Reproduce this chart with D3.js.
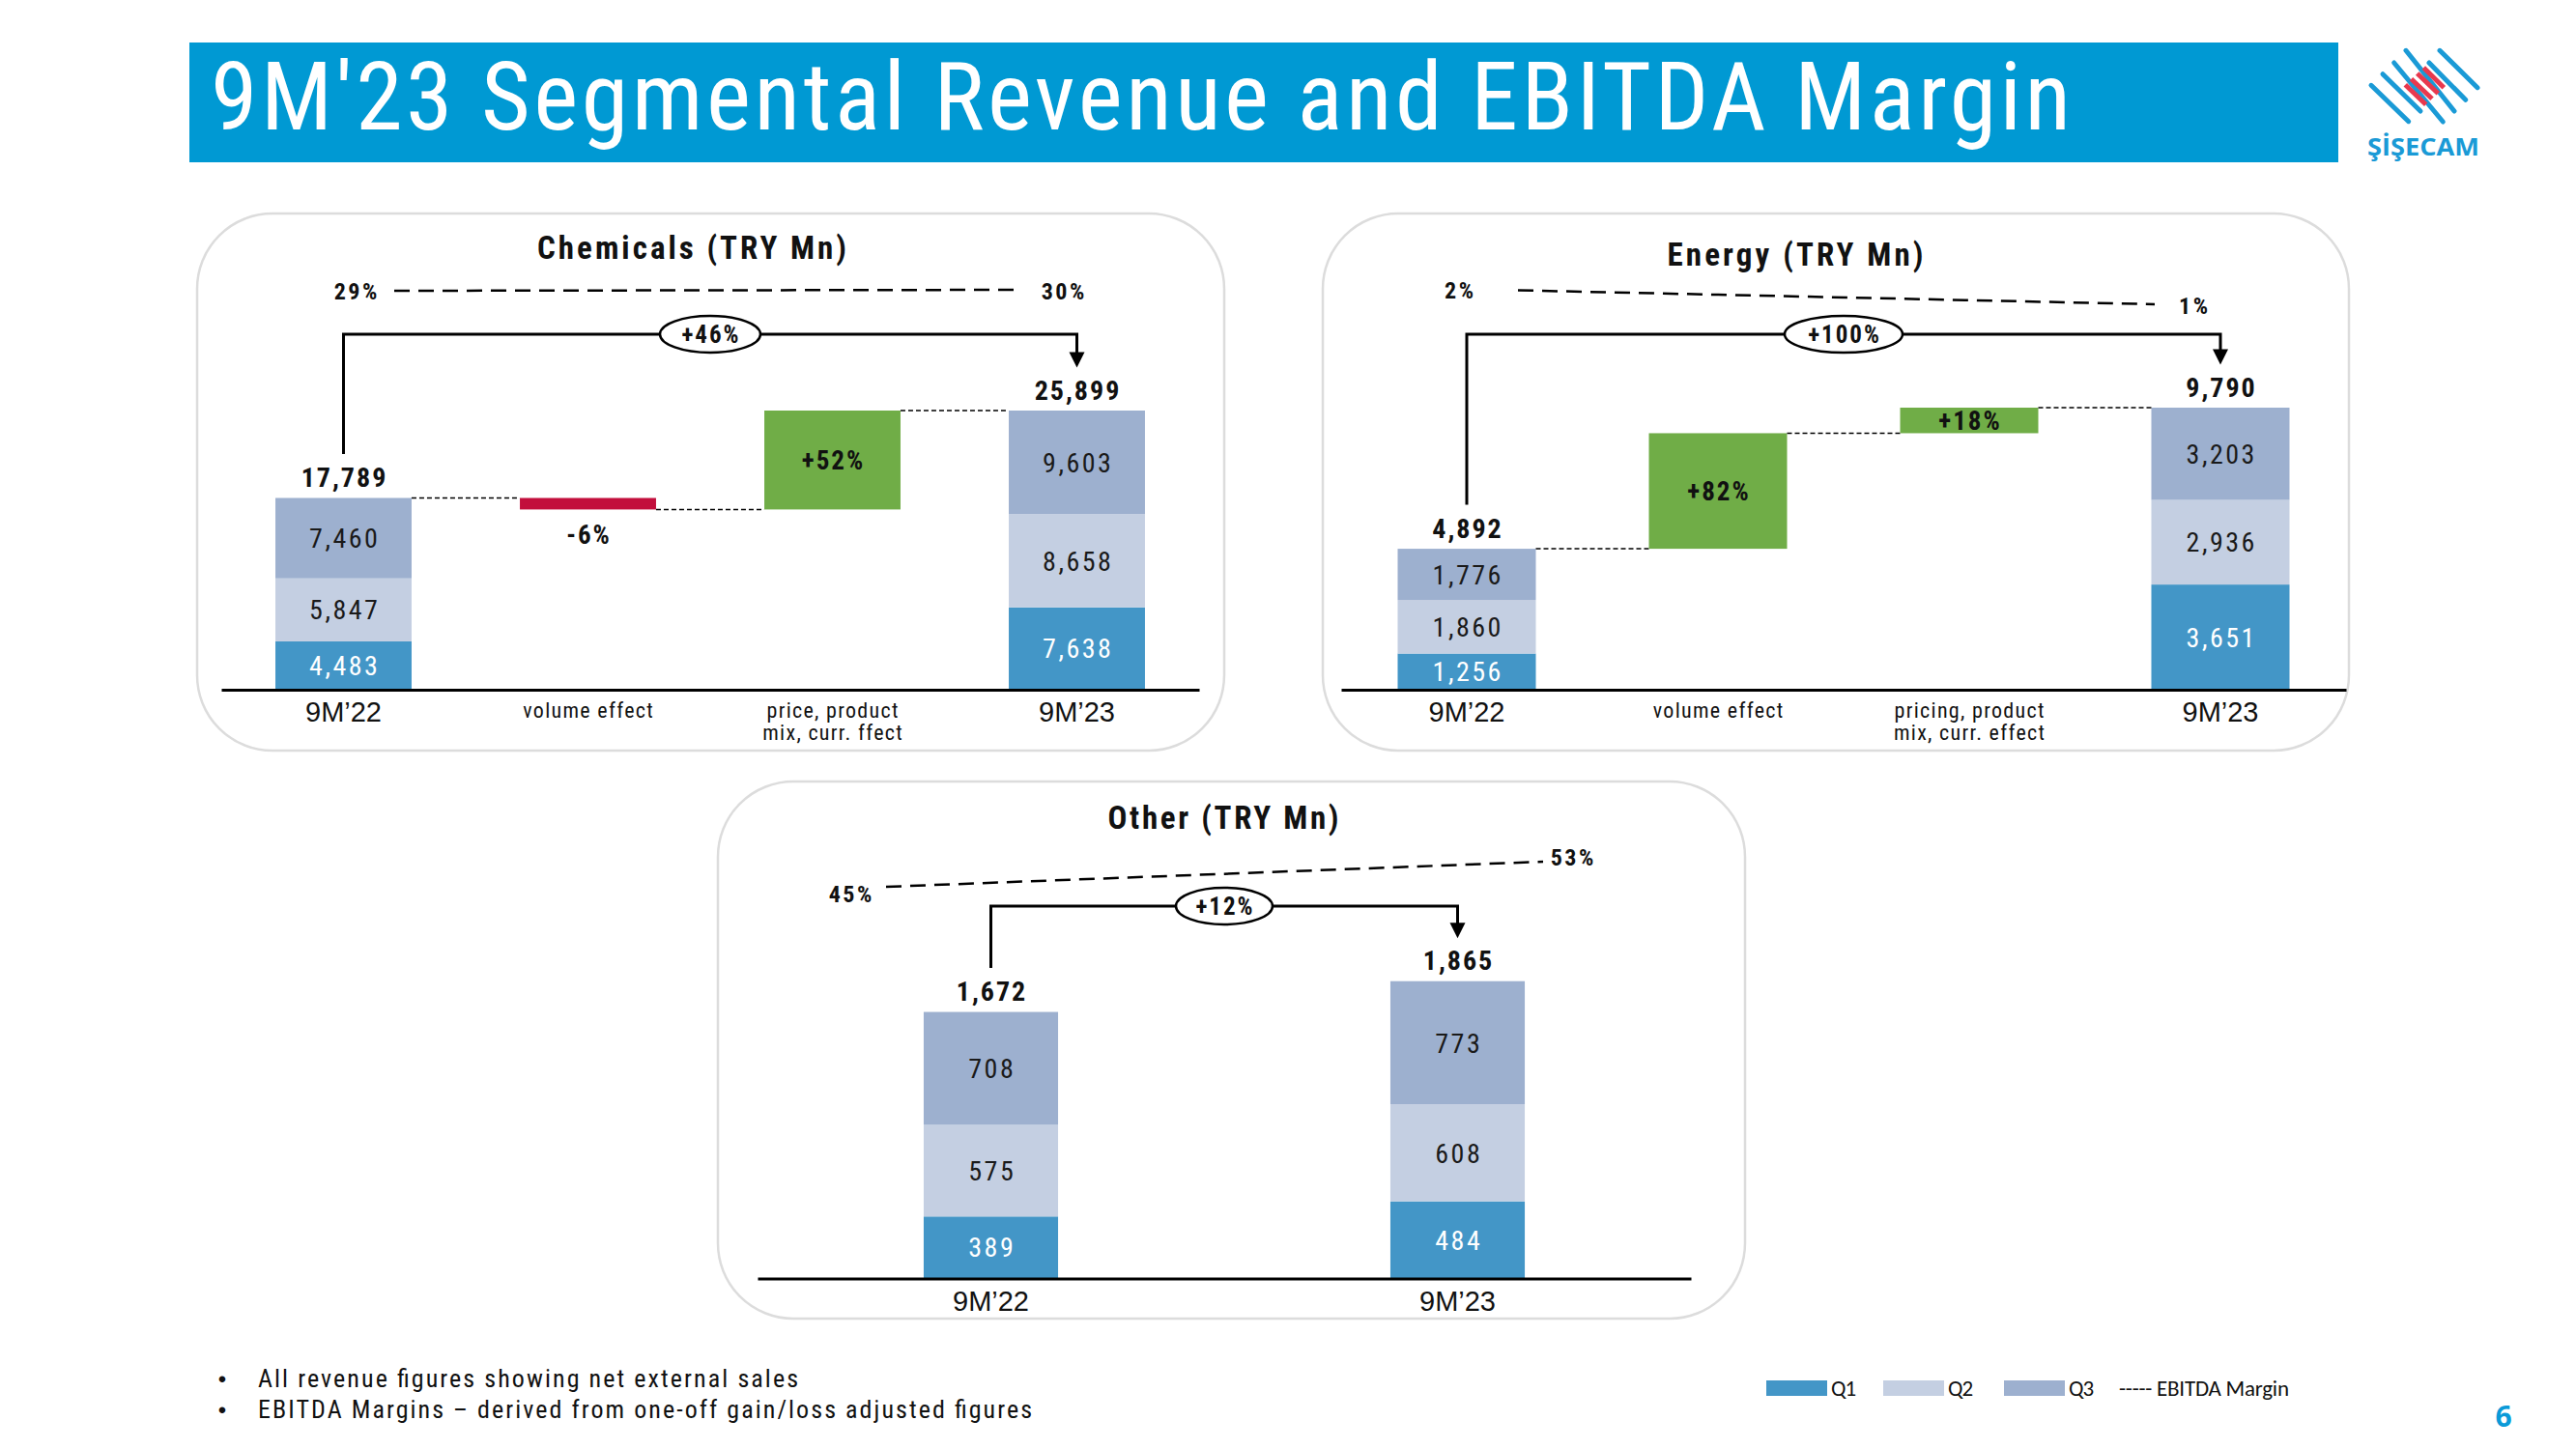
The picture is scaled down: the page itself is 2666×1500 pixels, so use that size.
<!DOCTYPE html>
<html><head><meta charset="utf-8">
<script src="https://cdn.jsdelivr.net/npm/d3@7"></script>
<style>html,body{margin:0;padding:0;background:#fff;} svg{display:block}</style>
</head><body>
<script>
// ---------------- DATA ----------------
const titleText = "9M'23 Segmental Revenue and EBITDA Margin";
const quarterKeys = ["Q1", "Q2", "Q3"];
const legendLabels = ["Q1", "Q2", "Q3"];
const legendMarginLabel = "----- EBITDA Margin";
const footnotes = ["All revenue figures showing net external sales",
                   "EBITDA Margins \u2013 derived from one-off gain/loss adjusted figures"];
const pageNumber = "6";

// Chemicals
const chemTitle = "Chemicals (TRY Mn)";
const chemCategories = ["9M\u201922", "volume effect", "price, product|mix, curr. ffect", "9M\u201923"];
const chemQ1 = [4483, 7638];
const chemQ2 = [5847, 8658];
const chemQ3 = [7460, 9603];
const chemTotals = [17789, 25899];
const chemBridge = [-1067, 9177];
const chemBridgeLabels = ["-6%", "+52%"];
const chemMargins = [29, 30];
const chemGrowth = "+46%";

// Energy
const energyTitle = "Energy (TRY Mn)";
const energyCategories = ["9M\u201922", "volume effect", "pricing, product|mix, curr. effect", "9M\u201923"];
const energyQ1 = [1256, 3651];
const energyQ2 = [1860, 2936];
const energyQ3 = [1776, 3203];
const energyTotals = [4892, 9790];
const energyBridge = [4011, 887];
const energyBridgeLabels = ["+82%", "+18%"];
const energyMargins = [2, 1];
const energyGrowth = "+100%";

// Other
const otherTitle = "Other (TRY Mn)";
const otherCategories = ["9M\u201922", "9M\u201923"];
const otherQ1 = [389, 484];
const otherQ2 = [575, 608];
const otherQ3 = [708, 773];
const otherTotals = [1672, 1865];
const otherBridge = [];
const otherBridgeLabels = [];
const otherMargins = [45, 53];
const otherGrowth = "+12%";

// ---------------- STYLE ----------------
const colors = { Q1: "#4396c7", Q2: "#c4cfe2", Q3: "#9db0cf", neg: "#c20e3c", pos: "#70ad47",
                 bar: "#0099d3", text: "#111" };
const NARROW = "'Liberation Sans Narrow','Arial Narrow','Roboto Condensed','Liberation Sans',Arial,sans-serif";
const SANS = "'Liberation Sans',Arial,sans-serif";
const fmt = d3.format(",");
const pct = d => d + "%";

const W = 2666, H = 1500;
const svg = d3.select("body").append("svg").attr("width", W).attr("height", H);

// Title bar
svg.append("rect").attr("x", 196).attr("y", 44).attr("width", 2224).attr("height", 124).attr("fill", colors.bar);
svg.append("text").attr("x", 218).attr("y", 134).text(titleText)
  .attr("fill", "#fff").attr("font-family", NARROW).attr("font-size", 98)
  .attr("textLength", 1925).attr("lengthAdjust", "spacing");

// Logo
const logo = svg.append("g");
const blueLines = [[2454,88.3,2492.7,125.7],[2466,76.7,2505,115],[2477.7,65,2528.3,126],
                   [2490,52.3,2540,115],[2514,65,2551.7,103.3],[2525,52.3,2564,90.7]];
blueLines.forEach(l => logo.append("line")
  .attr("x1", l[0]).attr("y1", l[1]).attr("x2", l[2]).attr("y2", l[3])
  .attr("stroke", "#1a9ad6").attr("stroke-width", 5).attr("stroke-linecap", "round"));
const redLines = [[2489.3,87.7,2510.7,108.3],[2495.5,81.7,2517,102.3],[2501.7,76,2523.3,96.7],[2508.3,70,2529.3,90.7]];
redLines.forEach(l => logo.append("line")
  .attr("x1", l[0]).attr("y1", l[1]).attr("x2", l[2]).attr("y2", l[3])
  .attr("stroke", "#e8394e").attr("stroke-width", 5));
logo.append("text").attr("x", 2450).attr("y", 161).text("\u015E\u0130\u015EECAM")
  .attr("fill", "#1a9ad6").attr("font-family", "'Open Sans','Noto Sans',sans-serif").attr("font-weight", 700)
  .attr("font-size", 25).attr("textLength", 116).attr("lengthAdjust", "spacingAndGlyphs");

function txt(g, x, yc, s, opt) {
  const fs = opt.size;
  const t = g.append("text").attr("x", x).attr("y", yc + fs * 0.36)
    .attr("text-anchor", opt.anchor || "middle")
    .attr("font-family", opt.family || NARROW).attr("font-size", fs)
    .attr("font-weight", opt.weight || 400).attr("fill", opt.fill || colors.text)
    .attr("letter-spacing", opt.ls || 0).text(s);
  if (opt.ls && (opt.anchor || "middle") === "middle") t.attr("dx", opt.ls / 2);
  if (opt.len) t.attr("textLength", opt.len).attr("lengthAdjust", "spacing");
  return t;
}

function drawChart(c) {
  const g = svg.append("g");
  g.append("rect").attr("x", c.panel[0]).attr("y", c.panel[1]).attr("width", c.panel[2]).attr("height", c.panel[3])
    .attr("rx", 78).attr("ry", 78).attr("fill", "#fff").attr("stroke", "#dcdcdc").attr("stroke-width", 2.5);
  txt(g, c.titleX, c.titleY, c.title, { size: 33, weight: 700, len: c.titleLen });

  const x = d3.scaleBand().domain(c.categories).range(c.xRange).paddingInner(c.pad).paddingOuter(c.pad / 2);
  const y = d3.scaleLinear().domain([0, d3.max(c.totals)]).range([c.axisY, c.topY]);
  const bw = x.bandwidth();
  const cx = cat => x(cat) + bw / 2;
  const first = c.categories[0], last = c.categories[c.categories.length - 1];

  const rows = [0, 1].map(i => ({ cat: i === 0 ? first : last, Q1: c.q1[i], Q2: c.q2[i], Q3: c.q3[i] }));
  const series = d3.stack().keys(quarterKeys)(rows);
  series.forEach(s => {
    s.forEach(d => {
      g.append("rect").attr("x", x(d.data.cat)).attr("width", bw)
        .attr("y", y(d[1])).attr("height", y(d[0]) - y(d[1])).attr("fill", colors[s.key]);
      txt(g, cx(d.data.cat), (y(d[0]) + y(d[1])) / 2, fmt(d.data[s.key]),
        { size: 28, ls: 2.5, fill: s.key === "Q1" ? "#fff" : "#1a1a1a" });
    });
  });
  // totals labels
  [first, last].forEach((cat, i) => txt(g, cx(cat), y(c.totals[i]) - 21.5, fmt(c.totals[i]), { size: 28, weight: 700, ls: 2 }));

  // bridge bars
  let running = c.totals[0];
  let prevRight = x(first) + bw, prevLevel = c.totals[0];
  c.bridge.forEach((v, i) => {
    const cat = c.categories[i + 1];
    const a = running, b = running + v;
    g.append("line").attr("x1", prevRight).attr("x2", x(cat)).attr("y1", y(prevLevel)).attr("y2", y(prevLevel))
      .attr("stroke", "#000").attr("stroke-width", 1.5).attr("stroke-dasharray", "5,3");
    g.append("rect").attr("x", x(cat)).attr("width", bw).attr("y", y(Math.max(a, b)))
      .attr("height", Math.abs(y(a) - y(b))).attr("fill", v < 0 ? colors.neg : colors.pos);
    if (v < 0) txt(g, cx(cat), y(b) + 26, c.bridgeLabels[i], { size: 27, weight: 700, ls: 2 });
    else txt(g, cx(cat), (y(a) + y(b)) / 2, c.bridgeLabels[i], { size: 27, weight: 700, ls: 2 });
    running = b; prevRight = x(cat) + bw; prevLevel = b;
  });
  if (c.bridge.length) {
    g.append("line").attr("x1", prevRight).attr("x2", x(last)).attr("y1", y(prevLevel)).attr("y2", y(prevLevel))
      .attr("stroke", "#000").attr("stroke-width", 1.5).attr("stroke-dasharray", "5,3");
  }

  // axis
  const ax = g.append("g").attr("transform", `translate(0,${c.axisY})`)
    .call(d3.axisBottom(x).tickSize(0).tickFormat(""));
  ax.select(".domain").attr("stroke", "#000").attr("stroke-width", 3);
  c.categories.forEach((cat, i) => {
    if (cat === first || cat === last) {
      txt(g, cx(cat), c.axisY + 23, cat, { size: 29, family: SANS });
    } else {
      cat.split("|").forEach((line, j) => txt(g, cx(cat), c.axisY + 21 + j * 23.5, line, { size: 22, ls: 1.3 }));
    }
  });

  // growth arrow
  const x0 = cx(first), x1 = cx(last);
  const startY = y(c.totals[0]) - 21.5 - 24;
  const tipY = y(c.totals[1]) - 21.5 - 23;
  g.append("path").attr("d", `M${x0},${startY}V${c.arrowY}H${x1}V${tipY - 15}`)
    .attr("fill", "none").attr("stroke", "#000").attr("stroke-width", 3);
  g.append("path").attr("d", `M${x1 - 8},${tipY - 16}L${x1 + 8},${tipY - 16}L${x1},${tipY}Z`).attr("fill", "#000");
  const mx = (x0 + x1) / 2;
  g.append("ellipse").attr("cx", mx).attr("cy", c.arrowY).attr("rx", c.ellRx).attr("ry", 19)
    .attr("fill", "#fff").attr("stroke", "#000").attr("stroke-width", 2.5);
  txt(g, mx, c.arrowY, c.growth, { size: 25, weight: 700, ls: 2 });

  // EBITDA margin line
  const my = d3.scaleLinear().domain(c.margins).range(c.marginY);
  g.append("line").attr("x1", c.mLine[0]).attr("x2", c.mLine[1])
    .attr("y1", my(c.margins[0])).attr("y2", my(c.margins[1]))
    .attr("stroke", "#000").attr("stroke-width", 2.5).attr("stroke-dasharray", "16,9");
  c.margins.forEach((m, i) => txt(g, c.mLabelX[i], my(m) + c.mLabelDy[i], pct(m), { size: 24, weight: 700, ls: 2.5 }));
}

drawChart({ title: chemTitle, categories: chemCategories, q1: chemQ1, q2: chemQ2, q3: chemQ3, totals: chemTotals,
  bridge: chemBridge, bridgeLabels: chemBridgeLabels, margins: chemMargins, growth: chemGrowth,
  panel: [204, 221, 1063, 556], titleX: 716, titleY: 256, titleLen: 320,
  xRange: [229, 1241], pad: 0.443, axisY: 714, topY: 425, arrowY: 346, ellRx: 52,
  marginY: [301, 300], mLine: [408, 1057], mLabelX: [368, 1100], mLabelDy: [0, 1] });

drawChart({ title: energyTitle, categories: energyCategories, q1: energyQ1, q2: energyQ2, q3: energyQ3, totals: energyTotals,
  bridge: energyBridge, bridgeLabels: energyBridgeLabels, margins: energyMargins, growth: energyGrowth,
  panel: [1369, 221, 1062, 556], titleX: 1858, titleY: 263, titleLen: 265,
  xRange: [1388, 2428], pad: 0.45, axisY: 714, topY: 422, arrowY: 346, ellRx: 61,
  marginY: [300.5, 315], mLine: [1571, 2230], mLabelX: [1510, 2270], mLabelDy: [0, 1] });

drawChart({ title: otherTitle, categories: otherCategories, q1: otherQ1, q2: otherQ2, q3: otherQ3, totals: otherTotals,
  bridge: otherBridge, bridgeLabels: otherBridgeLabels, margins: otherMargins, growth: otherGrowth,
  panel: [743, 809, 1063, 556], titleX: 1266, titleY: 846, titleLen: 239,
  xRange: [784, 1750], pad: 0.712, axisY: 1323.5, topY: 1015.7, arrowY: 938, ellRx: 50,
  marginY: [918, 892], mLine: [917, 1597], mLabelX: [880, 1627], mLabelDy: [7, -5] });

// Footnotes
footnotes.forEach((f, i) => {
  const yc = 1427 + i * 32;
  txt(svg, 230, yc, "\u2022", { size: 24, family: SANS, anchor: "middle" });
  txt(svg, 267, yc, f, { size: 26, anchor: "start", len: i === 0 ? 559 : 801 });
});

// Legend
const legX = [1828, 1949, 2074];
const LEGFONT = "'Carlito','Open Sans','Noto Sans',sans-serif";
quarterKeys.forEach((k, i) => {
  svg.append("rect").attr("x", legX[i]).attr("y", 1429).attr("width", 63).attr("height", 16).attr("fill", colors[k]);
  txt(svg, legX[i] + 67, 1437, legendLabels[i], { size: 23, anchor: "start", family: LEGFONT, ls: -1 });
});
txt(svg, 2193, 1437, legendMarginLabel, { size: 23, anchor: "start", family: LEGFONT, len: 176 });

// Page number
txt(svg, 2591, 1466, pageNumber, { size: 30, weight: 700, fill: "#0a9ad8", family: "'Open Sans','Noto Sans',sans-serif" });
</script>
</body></html>
